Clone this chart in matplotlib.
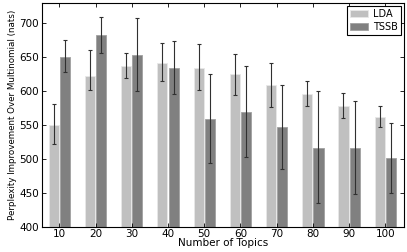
import matplotlib
matplotlib.use("Agg")
import matplotlib.pyplot as plt
import numpy as np

topics = [10, 20, 30, 40, 50, 60, 70, 80, 90, 100]
lda = [551, 623, 637, 642, 634, 625, 609, 596, 578, 562]
lda_lo = [523, 602, 619, 615, 602, 595, 577, 578, 560, 547]
lda_hi = [581, 661, 656, 671, 669, 655, 642, 615, 597, 579]
tssb = [651, 683, 653, 634, 559, 569, 547, 517, 516, 501]
tssb_lo = [629, 656, 601, 596, 495, 503, 486, 436, 448, 450]
tssb_hi = [675, 710, 708, 674, 625, 637, 609, 600, 585, 553]

fig = plt.figure(figsize=(4.07, 2.52), dpi=100)
ax = fig.add_axes([0.103, 0.099, 0.890, 0.889])

x = np.array(topics, dtype=float)
w = 2.8
lda_err = [np.array(lda) - np.array(lda_lo), np.array(lda_hi) - np.array(lda)]
tssb_err = [np.array(tssb) - np.array(tssb_lo), np.array(tssb_hi) - np.array(tssb)]
ax.bar(x - 1.55, lda, width=w, color='#c0c0c0', edgecolor='#e8e8e8', linewidth=0.6,
       yerr=lda_err, ecolor='#303030', capsize=1.5, error_kw=dict(elinewidth=0.8, capthick=0.8),
       label='LDA')
ax.bar(x + 1.55, tssb, width=w, color='#808080', edgecolor='#a0a0a0', linewidth=0.6,
       yerr=tssb_err, ecolor='#303030', capsize=1.5, error_kw=dict(elinewidth=0.8, capthick=0.8),
       label='TSSB')

ax.set_xlim(5.2, 105.2)
ax.set_ylim(400, 730)
ax.set_xticks(topics)
ax.set_yticks([400, 450, 500, 550, 600, 650, 700])
ax.tick_params(direction='in', top=True, right=True, labelsize=7.5, length=3, width=0.6)
ax.tick_params(axis='x', pad=1.5)
ax.tick_params(axis='y', pad=2)
for s in ax.spines.values():
    s.set_linewidth(0.8)
ax.set_xlabel('Number of Topics', fontsize=7.5, labelpad=-1)
ax.set_ylabel('Perplexity Improvement Over Multinomial (nats)', fontsize=6.3, labelpad=2)
leg = ax.legend(loc='upper right', fontsize=7, fancybox=False, framealpha=1,
                edgecolor='black', borderpad=0.3, handlelength=1.8, handletextpad=0.6,
                labelspacing=0.3, borderaxespad=0.3)
leg.get_frame().set_linewidth(0.8)

fig.savefig('out.png', dpi=100)
